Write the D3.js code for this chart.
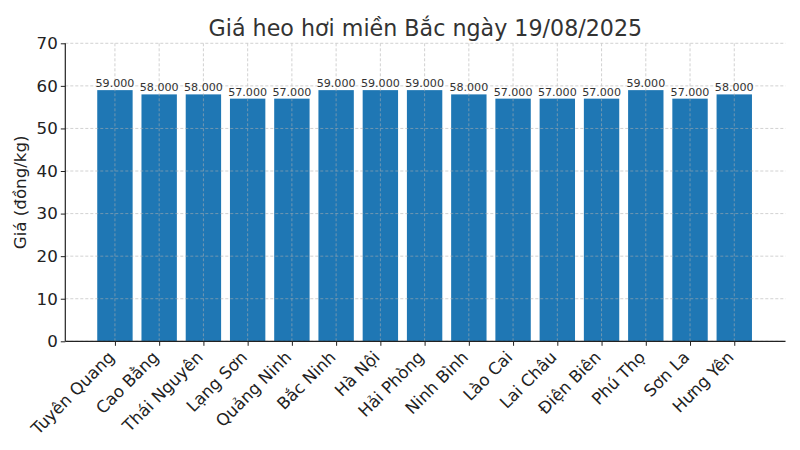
<!DOCTYPE html>
<html lang="vi">
<head>
<meta charset="utf-8">
<title>Giá heo hơi miền Bắc</title>
<script src="https://cdn.jsdelivr.net/npm/d3@7"></script>
<style>
  body { margin: 0; background: #fff; }
  svg { font-family: "DejaVu Sans", sans-serif; }
</style>
</head>
<body>
<div id="chart"></div>
<script>
// du lieu doc tu bieu do (nghin dong/kg)
var provinces = ["Tuyên Quang", "Cao Bằng", "Thái Nguyên", "Lạng Sơn", "Quảng Ninh",
  "Bắc Ninh", "Hà Nội", "Hải Phòng", "Ninh Bình", "Lào Cai", "Lai Châu",
  "Điện Biên", "Phú Thọ", "Sơn La", "Hưng Yên"];
var prices = [59, 58, 58, 57, 57, 59, 59, 59, 58, 57, 57, 57, 59, 57, 58];
var priceLabels = ["59.000", "58.000", "58.000", "57.000", "57.000", "59.000", "59.000",
  "59.000", "58.000", "57.000", "57.000", "57.000", "59.000", "57.000", "58.000"];
var yTicks = [0, 10, 20, 30, 40, 50, 60, 70];

var w = 800, h = 450;
var pLeft = 65.3, pRight = 785.5, pTop = 43.3, pBottom = 341.3;

var svg = d3.select("#chart").append("svg")
  .attr("width", w)
  .attr("height", h);

var n = provinces.length;
// giong matplotlib: bar rong 0.8, le 5%
var span = (n - 1) + 0.8;
var pad = span * 0.05;
var x = d3.scaleLinear()
  .domain([-0.4 - pad, n - 1 + 0.4 + pad])
  .range([pLeft - 0.8, pRight - 0.8]);
var y = d3.scaleLinear().domain([0, 70]).range([pBottom, pTop]);

// bars
svg.selectAll("rect.bar")
  .data(prices)
  .enter()
  .append("rect")
  .attr("class", "bar")
  .attr("x", function(d, i) { return x(i - 0.4); })
  .attr("width", function() { return x(0.8) - x(0); })
  .attr("y", function(d) { return y(d); })
  .attr("height", function(d) { return y(0) - y(d); })
  .attr("fill", "#1f77b4");

// grid (ve tren cot)
var grid = svg.append("g")
  .attr("stroke", "#b0b0b0")
  .attr("stroke-width", 0.8)
  .attr("stroke-dasharray", "3,2")
  .attr("opacity", 0.7);
grid.selectAll("line.gy")
  .data(yTicks)
  .enter()
  .append("line")
  .attr("x1", pLeft).attr("x2", pRight)
  .attr("y1", function(d) { return y(d); })
  .attr("y2", function(d) { return y(d); });
grid.selectAll("line.gx")
  .data(provinces)
  .enter()
  .append("line")
  .attr("x1", function(d, i) { return x(i); })
  .attr("x2", function(d, i) { return x(i); })
  .attr("y1", pTop).attr("y2", pBottom);

// nhan gia tri
svg.selectAll("text.val")
  .data(priceLabels)
  .enter()
  .append("text")
  .attr("x", function(d, i) { return x(i); })
  .attr("y", function(d, i) { return y(prices[i]) - 3; })
  .attr("text-anchor", "middle")
  .attr("font-size", "11.1px")
  .attr("fill", "#333")
  .text(function(d) { return d; });

// truc y
var yAxis = d3.axisLeft(y).tickValues(yTicks).tickSize(4.5).tickPadding(3);
var gy = svg.append("g")
  .attr("transform", "translate(" + pLeft + ",0)")
  .call(yAxis);
gy.selectAll("text").attr("font-size", "16.67px").attr("fill", "#222").style("font-family", "DejaVu Sans");
gy.select(".domain").attr("stroke", "#222").attr("stroke-width", 1.2)
  .attr("d", "M0," + pBottom + "V" + pTop);
gy.selectAll(".tick line").attr("stroke", "#222");

// truc x
var xAxis = d3.axisBottom(x)
  .tickValues(d3.range(n))
  .tickFormat(function(i) { return provinces[i]; })
  .tickSize(4.5)
  .tickSizeOuter(0);
var gx = svg.append("g")
  .attr("transform", "translate(0," + pBottom + ")")
  .call(xAxis);
gx.select(".domain").attr("stroke", "#222").attr("stroke-width", 1.2)
  .attr("d", "M" + pLeft + ",0H" + pRight);
gx.selectAll(".tick line").attr("stroke", "#222");
gx.selectAll("text")
  .attr("font-size", "16.67px")
  .attr("fill", "#222")
  .style("font-family", "DejaVu Sans")
  .attr("text-anchor", "end")
  .attr("dy", "0")
  .attr("y", 0)
  .attr("transform", "translate(0,17) rotate(-45)");

// tieu de
svg.append("text")
  .attr("x", (pLeft + pRight) / 2)
  .attr("y", 36)
  .attr("text-anchor", "middle")
  .attr("font-size", "22.2px")
  .attr("fill", "#333")
  .text("Giá heo hơi miền Bắc ngày 19/08/2025");

svg.append("text")
  .attr("transform", "translate(26," + ((pTop + pBottom) / 2) + ") rotate(-90)")
  .attr("text-anchor", "middle")
  .attr("font-size", "16.67px")
  .attr("fill", "#222")
  .text("Giá (đồng/kg)");
</script>
</body>
</html>
